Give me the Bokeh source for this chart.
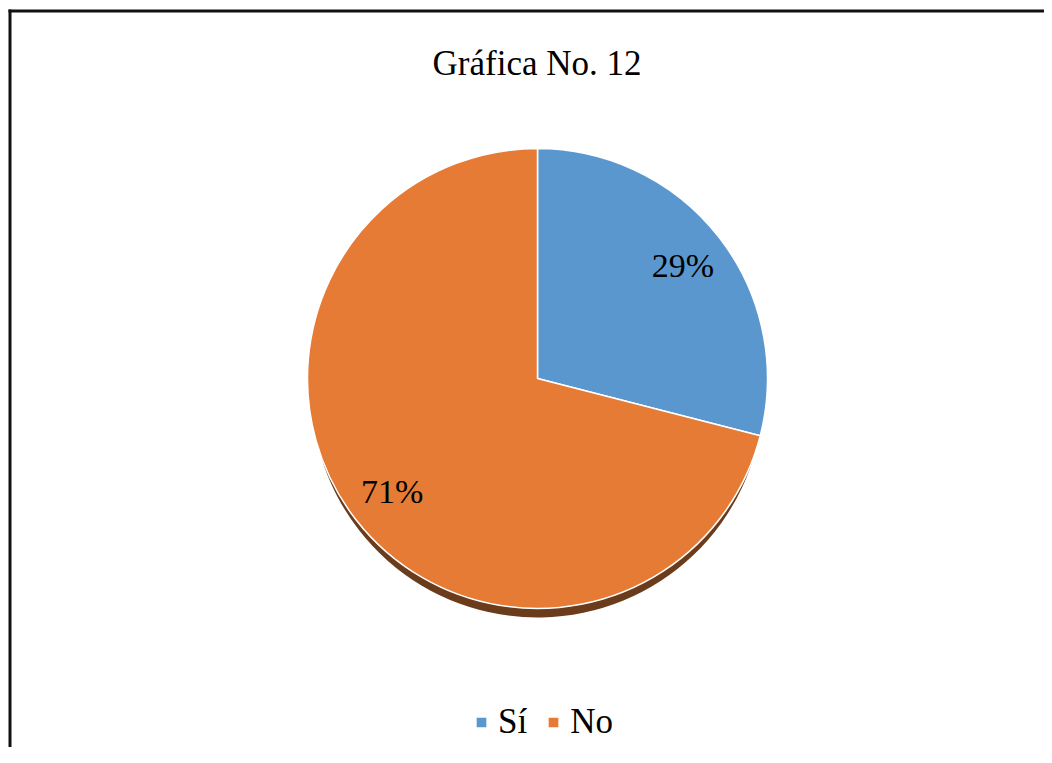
import numpy as np
from bokeh.plotting import figure
from bokeh.models import (Range1d, BoxAnnotation, Label, LabelSet, Legend, LegendItem,
                          ColumnDataSource)
from bokeh.embed import file_html
from bokeh.resources import INLINE

# ---- data ----
categories = ["Sí", "No"]
percentages = [29, 71]
colors = ["#5b97cf", "#e57b35"]
title_text = "Gráfica No. 12"

# ---- layout helpers (picture pixel -> data units, 1 unit = 1 px) ----
W, H = 1044, 747
def px(xp):
    return xp
def py(yp):
    return H - yp

cx, cy = px(537), py(378)
R = 230
FONT = "Liberation Serif"

vals = np.array(percentages, dtype=float)
frac = vals / vals.sum()
cum = np.cumsum(frac)
start = np.pi / 2 - 2 * np.pi * (cum - frac)
end = np.pi / 2 - 2 * np.pi * cum
mid = (start + end) / 2

src = ColumnDataSource(dict(
    cat=categories,
    start=start,
    end=end,
    color=colors,
    label=[f"{v:.0f}%" for v in percentages],
    lx=cx + 0.8 * R * np.cos(mid),
    ly=cy + 0.8 * R * np.sin(mid),
))

p = figure(width=W, height=H, x_range=Range1d(0, W), y_range=Range1d(0, H),
           output_backend="svg", toolbar_location=None, min_border=0)
p.axis.visible = False
p.grid.visible = False
p.outline_line_color = None
p.background_fill_color = "white"
p.border_fill_color = "white"

# shadow under the pie
p.wedge(x=cx, y=cy - 13, radius=R - 4, start_angle="start", end_angle="end",
        direction="clock", source=src, fill_color="#6b3c1b", line_color=None)

pie = p.wedge(x=cx, y=cy, radius=R, start_angle="start", end_angle="end",
              direction="clock", source=src, fill_color="color",
              line_color="white", line_width=1.5)

p.add_layout(LabelSet(x="lx", y="ly", text="label", source=src, text_align="center",
                      text_baseline="middle", text_font=FONT, text_font_size="34px",
                      text_color="black"))

# title
p.add_layout(Label(x=px(536.5), y=py(63), text=title_text, text_align="center",
                   text_baseline="alphabetic", text_font=FONT,
                   text_font_size="35px", text_color="black"))

# chart border (left and top edges only are in view)
p.add_layout(BoxAnnotation(left=px(8), right=px(11), top=py(9), bottom=0,
                           fill_color="#111111", fill_alpha=1, line_color=None))
p.add_layout(BoxAnnotation(left=px(8), right=W, top=py(9), bottom=py(12),
                           fill_color="#111111", fill_alpha=1, line_color=None))

legend = Legend(
    items=[LegendItem(label=c, renderers=[pie], index=i) for i, c in enumerate(categories)],
    orientation="horizontal",
    location=(px(474), py(742)),
    padding=0, margin=0, spacing=19,
    glyph_width=14, glyph_height=14, label_standoff=10,
    label_text_font=FONT, label_text_font_size="35px", label_text_color="black",
    background_fill_alpha=0, border_line_color=None,
)
p.add_layout(legend)

open("out.html", "w").write(file_html(p, INLINE))
